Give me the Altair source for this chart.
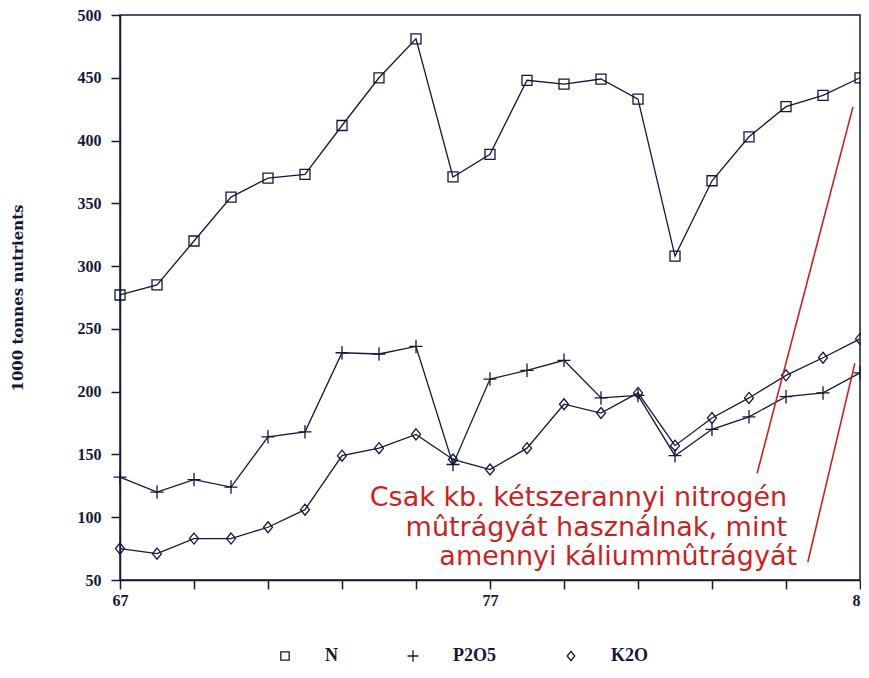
import altair as alt
import pandas as pd

# ---- data ----
years = list(range(67, 88))
n_vals = [277, 285, 320, 355, 370, 373, 412, 450, 481, 371, 389, 448, 445, 449, 433, 308, 368, 403, 427, 436, 450]
p_vals = [132, 120, 130, 124, 164, 168, 231, 230, 236, 142, 210, 217, 225, 195, 197, 149, 170, 180, 196, 199, 215]
k_vals = [75, 71, 83, 83, 92, 106, 149, 155, 166, 146, 138, 155, 190, 183, 199, 157, 179, 195, 213, 227, 242]
series_names = ["N", "P2O5", "K2O"]

y_ticks = [50, 100, 150, 200, 250, 300, 350, 400, 450, 500]

# red annotation (data coordinates)
note_lines = ["Csak kb. kétszerannyi nitrogén",
              "mûtrágyát használnak, mint",
              "amennyi káliummûtrágyát"]
note_x = [85.03, 85.03, 85.30]
note_y = [108.8, 85.0, 61.9]
seg_x1 = [84.22, 85.59]
seg_y1 = [135.0, 64.3]
seg_x2 = [86.81, 86.86]
seg_y2 = [426.8, 222.5]

DARK = "#141838"
RED = "#cc1f1f"

rows = []
for name, vals in zip(series_names, [n_vals, p_vals, k_vals]):
    for yr, v in zip(years, vals):
        rows.append({"year": yr, "value": v, "series": name})
df = pd.DataFrame(rows)

notes = pd.DataFrame({"text": note_lines, "x": note_x, "y": note_y})
segs = pd.DataFrame({"x": seg_x1, "y": seg_y1, "x2": seg_x2, "y2": seg_y2})

xscale = alt.Scale(domain=[67, 87], nice=False, zero=False)
yscale = alt.Scale(domain=[50, 500], nice=False, zero=False)

xaxis = alt.Axis(values=years, labelExpr="(datum.value - 67) % 10 == 0 ? datum.label : ''",
                 tickSize=9, labelPadding=3, grid=False, title=None, labelFlush=False,
                 labelFont="Liberation Serif", labelFontWeight="bold", labelFontSize=16,
                 labelColor=DARK, tickColor=DARK, domainColor=DARK, tickWidth=1.5, domainWidth=1.5)
yaxis = alt.Axis(values=y_ticks, tickSize=9, labelPadding=10, grid=False, labelFlush=False,
                 title="1000 tonnes nutrients", titleFont="DejaVu Serif", titleFontWeight="bold",
                 titleFontSize=15, titleColor=DARK, titlePadding=52,
                 labelFont="Liberation Serif", labelFontWeight="bold", labelFontSize=16,
                 labelColor=DARK, tickColor=DARK, domainColor=DARK, tickWidth=1.5, domainWidth=1.5)

base = alt.Chart(df)

lines = base.mark_line(color=DARK, strokeWidth=1.3).encode(
    x=alt.X("year:Q", scale=xscale, axis=xaxis),
    y=alt.Y("value:Q", scale=yscale, axis=yaxis),
    detail="series:N",
)

square_path = "M-1,-1L1,-1L1,1L-1,1Z"
plus_path = "M-1.3,0L1.3,0M0,-1.35L0,1.35"
diamond_path = "M0,-1.1L0.9,0L0,1.1L-0.9,0Z"

points = base.mark_point(filled=False, color=DARK, strokeWidth=1.3, opacity=1, size=100).encode(
    x=alt.X("year:Q", scale=xscale),
    y=alt.Y("value:Q", scale=yscale),
    shape=alt.Shape("series:N",
                    scale=alt.Scale(domain=series_names, range=[square_path, plus_path, diamond_path]),
                    legend=alt.Legend(orient="none", legendX=156, legendY=632, direction="horizontal",
                                      title=None, labelFont="Liberation Serif", labelFontWeight="bold",
                                      labelFontSize=18, labelColor=DARK, symbolStrokeColor=DARK,
                                      symbolStrokeWidth=1.3, symbolSize=70, labelOffset=31,
                                      columnPadding=66)),
)

red_segs = alt.Chart(segs).mark_rule(color=RED, strokeWidth=1.6).encode(
    x=alt.X("x:Q", scale=xscale), y=alt.Y("y:Q", scale=yscale), x2="x2:Q", y2="y2:Q"
)

red_text = alt.Chart(notes).mark_text(color=RED, font="DejaVu Sans", fontSize=27, align="right",
                                      baseline="alphabetic").encode(
    x=alt.X("x:Q", scale=xscale), y=alt.Y("y:Q", scale=yscale), text="text:N"
)

chart = alt.layer(lines, points, red_segs, red_text).properties(
    width=740, height=565,
    padding={"left": 112, "top": 7, "right": 1, "bottom": 84},
    autosize=alt.AutoSizeParams(type="none"),
    background="white",
).configure_view(stroke=DARK, strokeWidth=1.5)

chart.save("out.html", embed_options={"renderer": "svg", "actions": False})
